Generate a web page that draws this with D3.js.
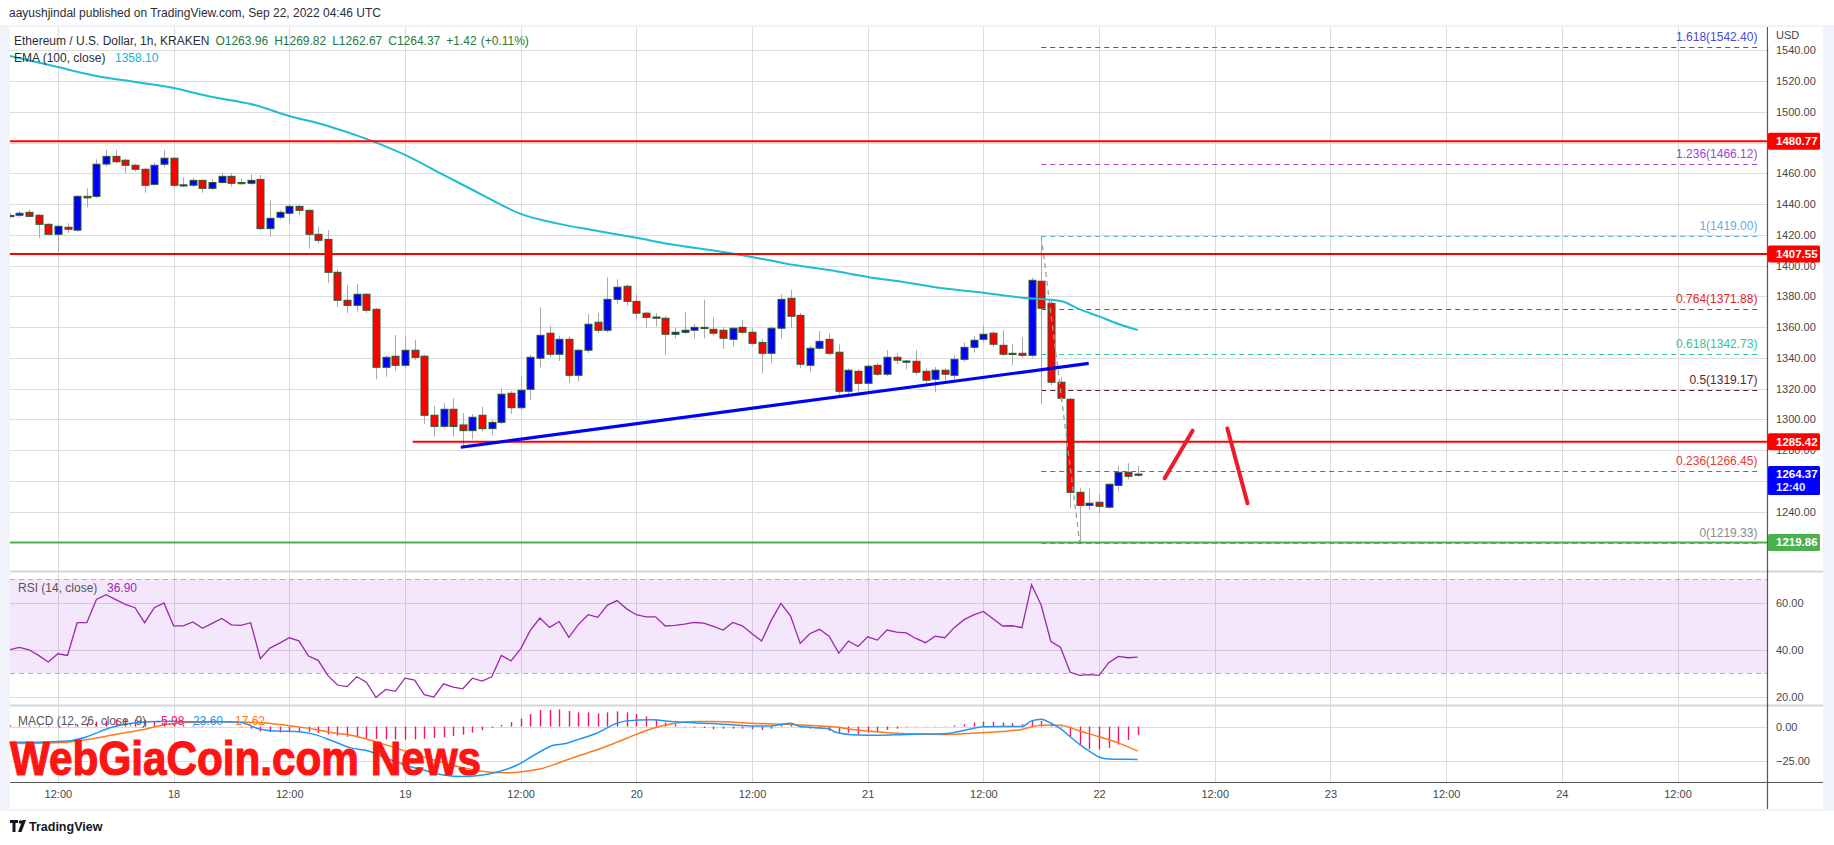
<!DOCTYPE html>
<html><head><meta charset="utf-8">
<script src="https://d3js.org/d3.v7.min.js"></script>
<style>
html,body{margin:0;padding:0;background:#fff;overflow:hidden;}
svg{display:block;}
text{font-family:"Liberation Sans", Arial, sans-serif;}
</style></head>
<body><svg id="c" width="1834" height="845"></svg>
<script>
// ---------------- DATA ----------------
const firstCandle = Date.UTC(2022, 8, 17, 7, 0);   // Sep 17 07:00 UTC, 1h candles
const refTime = Date.UTC(2022, 8, 22, 0, 0);       // offsets below are hours from Sep 22 00:00

const opens = [1432.6,1432.7,1434.6,1432.7,1426.8,1420.3,1424.9,1423.0,1445.0,1445.0,1466.0,1471.0,1468.5,1465.2,1462.6,1452.8,1465.9,1469.8,1452.2,1452.2,1455.4,1450.2,1454.0,1458.0,1454.0,1453.5,1456.0,1424.0,1431.4,1434.0,1438.5,1435.9,1420.3,1417.0,1395.6,1377.4,1374.1,1381.3,1371.5,1333.8,1341.0,1335.1,1344.9,1341.0,1302.6,1295.4,1306.5,1296.3,1292.6,1302.6,1293.9,1298.0,1316.9,1307.5,1319.5,1339.7,1356.0,1342.3,1352.0,1328.6,1344.9,1363.1,1357.9,1378.0,1386.5,1376.7,1369.0,1366.3,1365.7,1355.3,1356.6,1357.9,1359.8,1358.5,1357.9,1352.0,1359.8,1356.6,1350.0,1342.9,1359.2,1378.7,1367.6,1335.1,1346.2,1352.0,1343.6,1318.2,1331.2,1323.4,1335.1,1329.3,1340.3,1337.7,1337.7,1331.2,1326.0,1331.9,1328.6,1339.0,1346.8,1352.0,1356.0,1348.1,1342.7,1342.9,1341.6,1389.8,1375.4,1324.1,1313.0,1252.5,1244.0,1246.0,1242.8,1257.0,1265.5,1263.96];
const highs = [1434.0,1435.5,1436.5,1433.5,1427.5,1426.5,1427.5,1446.0,1450.2,1469.1,1475.2,1475.2,1469.5,1466.3,1463.5,1467.1,1475.2,1470.5,1457.4,1457.0,1456.0,1456.1,1460.0,1460.0,1456.7,1459.3,1459.0,1442.4,1436.0,1440.0,1439.4,1436.5,1425.5,1423.1,1397.6,1387.2,1388.0,1382.0,1372.5,1341.5,1354.8,1353.7,1351.6,1342.0,1308.6,1310.4,1313.7,1304.0,1303.4,1308.0,1299.5,1320.2,1318.5,1328.0,1342.0,1372.8,1360.7,1354.2,1354.0,1346.0,1368.5,1369.3,1392.4,1391.0,1387.8,1381.0,1370.0,1369.1,1367.2,1359.8,1369.6,1362.0,1377.6,1366.3,1360.0,1360.2,1364.6,1359.0,1352.0,1360.5,1381.3,1384.1,1369.3,1348.0,1357.4,1355.9,1348.8,1333.0,1332.5,1336.0,1336.5,1345.0,1343.0,1338.5,1345.0,1333.0,1334.0,1333.0,1341.6,1350.0,1354.0,1361.1,1357.4,1357.9,1348.8,1353.3,1392.0,1419.0,1378.0,1327.5,1314.0,1255.1,1255.0,1251.4,1258.5,1269.6,1271.4,1269.82];
const lows = [1431.0,1431.4,1431.4,1418.0,1420.0,1409.0,1421.0,1422.0,1437.9,1444.0,1464.3,1466.5,1460.0,1461.0,1447.4,1452.0,1463.9,1450.9,1450.9,1451.0,1447.4,1449.0,1453.0,1451.3,1452.5,1452.5,1423.0,1418.8,1430.0,1427.5,1433.0,1411.0,1414.5,1388.5,1373.0,1369.0,1370.0,1369.0,1326.0,1327.7,1331.6,1333.0,1338.6,1297.0,1288.7,1294.0,1288.7,1282.2,1287.0,1292.0,1289.8,1297.0,1303.4,1306.0,1312.5,1333.8,1340.3,1337.9,1323.8,1324.5,1343.0,1356.0,1356.5,1374.8,1374.0,1365.0,1359.6,1360.2,1341.8,1352.7,1355.3,1352.7,1352.7,1354.6,1345.7,1347.5,1355.0,1348.0,1329.9,1336.8,1352.7,1359.2,1333.2,1330.6,1344.9,1341.6,1316.0,1316.5,1318.0,1317.0,1328.0,1328.0,1336.0,1332.5,1329.0,1322.0,1317.5,1325.0,1326.0,1337.5,1343.3,1350.0,1347.0,1341.0,1335.1,1340.0,1340.0,1309.7,1322.0,1311.5,1242.0,1219.33,1241.0,1239.0,1242.0,1253.6,1261.0,1262.67];
const closes = [1432.3,1434.0,1432.0,1426.8,1420.3,1425.5,1423.6,1445.0,1444.0,1465.9,1471.0,1467.5,1465.2,1462.6,1452.2,1465.2,1469.8,1452.2,1452.5,1455.4,1450.2,1454.0,1458.0,1453.5,1453.5,1455.4,1424.0,1430.7,1434.6,1438.5,1435.9,1420.3,1416.4,1395.6,1377.4,1374.1,1381.3,1370.9,1333.8,1340.3,1335.1,1344.9,1340.3,1302.6,1295.4,1306.5,1295.3,1292.6,1301.3,1293.9,1298.0,1316.3,1307.5,1318.9,1340.3,1354.6,1342.3,1352.0,1328.6,1344.9,1361.8,1357.9,1378.0,1385.9,1376.7,1369.0,1366.3,1366.5,1355.3,1356.6,1357.9,1359.8,1359.2,1356.0,1352.7,1359.2,1356.6,1349.4,1342.9,1359.2,1378.0,1367.0,1335.8,1346.2,1350.7,1342.9,1318.2,1331.9,1323.4,1334.5,1329.3,1340.3,1338.4,1337.9,1330.6,1325.4,1331.9,1329.3,1339.0,1346.8,1351.4,1355.3,1348.8,1342.3,1342.9,1341.6,1390.4,1372.2,1324.1,1313.7,1252.5,1244.0,1245.4,1243.4,1257.7,1265.5,1262.9,1264.37];

// EMA(100) read at sampled hours [hour offset, value]
const ema100 = [[-113,1536.3],[-108,1529.1],[-104,1523.3],[-100,1519.4],[-96,1515.5],[-92,1509.6],[-88,1505.1],[-84,1497.3],[-80,1490.8],[-76,1482.4],[-72,1472.0],[-68,1459.0],[-64,1446.0],[-60,1433.6],[-56,1427.1],[-52,1422.5],[-48,1418.0],[-44,1413.4],[-40,1409.8],[-36,1405.6],[-32,1400.7],[-28,1397.1],[-24,1392.6],[-20,1389.0],[-16,1385.0],[-12,1382.3],[-8,1379.1],[-4,1376.9],[-2,1371.5],[0,1366.9],[2,1362.0],[4,1358.1]];

// RSI(14) per candle
const rsi = [40.0,41.0,40.0,37.6,34.8,38.3,37.6,51.5,51.5,61.4,63.4,61.3,59.3,57.9,51.5,57.9,59.9,50.2,50.2,51.8,49.1,51.2,53.3,50.6,50.4,51.5,36.2,40.7,42.8,45.1,43.8,37.3,35.5,29.1,25.0,24.3,28.5,26.2,19.7,23.1,22.3,27.9,27.1,20.9,19.9,25.5,24.1,23.4,27.9,26.7,28.5,37.6,35.3,40.4,48.2,53.5,49.5,52.0,45.3,50.8,54.9,53.8,59.0,60.9,57.4,54.9,54.0,54.0,50.1,50.4,50.9,51.6,51.3,49.9,48.4,51.6,50.2,46.8,43.7,52.5,59.7,54.3,42.7,46.8,48.7,45.8,38.6,43.7,41.4,45.5,44.1,48.4,47.5,47.2,44.8,43.0,45.8,45.1,49.5,52.8,54.8,56.3,53.2,50.1,50.2,49.4,67.7,58.9,43.5,41.1,30.4,29.1,29.4,29.1,34.5,37.2,36.6,36.9];

// MACD(12,26,9): line and signal read at sampled hours, histogram per candle
const macdLine = [[-113,-11.2],[-110,-11.2],[-107,-10.4],[-105,-7.3],[-102.5,-0.7],[-100.6,2.2],[-98.7,3.4],[-96.4,3.9],[-94,3.4],[-91,3.4],[-89,2.9],[-87.2,-1.5],[-85.3,-3.2],[-83.3,-3.6],[-81.4,-5.6],[-79.5,-10.4],[-77.6,-15.3],[-75.7,-17.7],[-73.7,-23.3],[-71.8,-27.9],[-69.9,-31.6],[-68,-34.7],[-66.1,-35.9],[-64.1,-35],[-62.2,-32.3],[-60.3,-27.4],[-58.4,-19.7],[-56.5,-13.3],[-55.5,-12.4],[-54,-9.2],[-52,-4.4],[-50,2.4],[-49,4.1],[-46.4,4.9],[-44,3.4],[-40,2.2],[-36,0.5],[-34,0.5],[-32,2.4],[-31,0],[-28,-1.5],[-27.4,-3.9],[-25,-6.1],[-23,-6.3],[-20,-5.6],[-16,-5.1],[-14.3,-3.2],[-12,-0.2],[-10,0],[-8,0],[-7,4.1],[-6,5.3],[-5,2.4],[-4,-1.5],[-3,-7.3],[-2,-12.9],[-1,-17.7],[0,-21.8],[1,-23.3],[2,-23.5],[3,-23.5],[4,-23.6]];
const macdSignal = [[-113,-12.1],[-107,-11.2],[-104.4,-8.7],[-102.5,-6.3],[-100.6,-3.9],[-98.7,-1.5],[-96.8,1.5],[-94.8,2.9],[-91,3.4],[-87.2,2.9],[-85,1.5],[-83.3,0],[-81.4,-1.9],[-79.5,-4.4],[-77.6,-6.3],[-75,-11],[-72,-17.5],[-69,-24],[-66,-29.5],[-63,-32.8],[-61,-33.2],[-59.5,-32],[-58,-30.5],[-56,-26],[-54,-21],[-52,-16.5],[-50,-11.2],[-48,-5.6],[-46,-0.7],[-44,2.4],[-42,3.6],[-40,3.6],[-36,2.4],[-32,1.5],[-28,0],[-24,-3.2],[-20,-5.1],[-16,-5.6],[-12.3,-4.4],[-8.3,-2.4],[-6,1],[-4,1],[-2,-3.2],[0,-7.3],[2,-11.7],[4,-17.62]];
const macdHist = [0.9,0.9,0.8,0.7,0.6,0.6,0.8,1.6,2.6,3.5,4.4,5.0,5.3,5.1,4.6,4.0,2.9,2.2,1.3,0.8,0.4,0.3,0.1,-0.1,-0.5,-1.5,-3.6,-4.0,-4.2,-4.0,-3.6,-3.7,-4.5,-5.6,-6.5,-7.3,-7.8,-8.3,-8.8,-9.2,-9.3,-9.4,-9.2,-8.8,-8.2,-7.7,-6.7,-5.8,-4.3,-2.6,-0.8,1.2,3.2,5.8,9.0,11.9,11.9,12.3,11.2,10.2,10.2,9.5,10.2,10.9,10.2,9.0,7.3,4.9,2.9,1.7,0.3,-0.7,-1.0,-1.9,-1.5,-1.5,-1.5,-1.9,-2.4,-1.5,1.0,1.5,-0.7,-1.5,-1.5,-3.2,-4.4,-4.4,-5.6,-4.4,-3.9,-2.4,-1.5,-0.4,-0.3,-0.2,0.2,0.3,1.0,1.7,2.9,3.6,3.6,2.9,2.4,1.7,4.1,4.1,1.7,-0.5,-7.3,-12.9,-16.0,-16.5,-15.3,-12.9,-9.7,-5.98];

// Axis ticks (grid) and the price labels left visible next to the badges
const priceTicks = [1220,1240,1260,1280,1300,1320,1340,1360,1380,1400,1420,1440,1460,1480,1500,1520,1540];
const priceLabels = [1240,1280,1300,1320,1340,1360,1380,1400,1420,1440,1460,1500,1520,1540];
const rsiTicks = [20,40,60];
const macdTicks = [-25,0];
const timeTickDates = ["2022-09-17T12:00Z","2022-09-18T00:00Z","2022-09-18T12:00Z","2022-09-19T00:00Z","2022-09-19T12:00Z","2022-09-20T00:00Z","2022-09-20T12:00Z","2022-09-21T00:00Z","2022-09-21T12:00Z","2022-09-22T00:00Z","2022-09-22T12:00Z","2022-09-23T00:00Z","2022-09-23T12:00Z","2022-09-24T00:00Z","2022-09-24T12:00Z"];
const timeTickLabels = ["12:00","18","12:00","19","12:00","20","12:00","21","12:00","22","12:00","23","12:00","24","12:00"];

// Drawings
const hLevels = [ {price:1480.77, fromHour:-113}, {price:1407.55, fromHour:-113}, {price:1285.42, fromHour:-71.2} ];
const supportLevel = {price:1219.86, fromHour:-113};
const trendLine = [[-66.2,1281.8],[-1.07,1336.4]];
const projUp = [[6.8,1261.6],[9.7,1292.6]];
const projDown = [[13.3,1294.1],[15.4,1245.4]];
const fibRatios = ["1.618","1.236","1","0.764","0.618","0.5","0.236","0"];
const fibPrices = [1542.40,1466.12,1419.00,1371.88,1342.73,1319.17,1266.45,1219.33];
const fibSpan = [-6, 68.5];
const fibDiagonal = [[-6,1419.0],[-2,1219.33]];
const lastPrice = 1264.37, countdown = "12:40";
const axisBadges = [1480.77, 1407.55, 1285.42, 1219.86];
const ohlcLegend = ["O1263.96","H1269.82","L1262.67","C1264.37","+1.42","(+0.11%)"];

// ---------------- STYLE / LAYOUT ----------------
const L = 10, R = 1767, TOP = 27, PANE1B = 571, PANE2B = 705, PANE3B = 782, BOX_B = 809, BOX_R = 1823;
const fibColors = ["#4a4ad8","#a044d4","#5fb0e6","#e3262b","#2ec49c","#5a2238","#e53935","#8a8a8a"];
const badgeColors = ["#ff0000","#ff0000","#ff0000","#4caf50"];

const svg = d3.select("#c");
const hour = h => new Date(refTime + h*3600e3);
const candleTime = i => new Date(firstCandle + i*3600e3);

const x = d3.scaleUtc().domain([new Date(Date.UTC(2022,8,17,7,2)), new Date(Date.UTC(2022,8,24,21,17))]).range([L, R]);
const y = d3.scaleLinear().domain([1201.3, 1555.15]).range([PANE1B, TOP]);
const yr = d3.scaleLinear().domain([16.5, 73.5]).range([PANE2B, PANE1B]);
const ym = d3.scaleLinear().domain([-39.8, 15.5]).range([PANE3B, PANE2B]);

const defs = svg.append("defs");
function clip(id, y0, y1){ defs.append("clipPath").attr("id", id).append("rect").attr("x", L).attr("y", y0).attr("width", R-L).attr("height", y1-y0); }
clip("cp1", TOP, PANE1B); clip("cp2", PANE1B, PANE2B); clip("cp3", PANE2B, PANE3B);

// background frame
svg.append("rect").attr("x",0).attr("y",TOP-2).attr("width",1834).attr("height",BOX_B-TOP+4).attr("fill","#f0f3fa");
svg.append("rect").attr("x",L).attr("y",TOP).attr("width",BOX_R-L).attr("height",BOX_B-TOP).attr("fill","#ffffff");

const gridColor = "#dcdcdc";
const timeTicks = timeTickDates.map(d => new Date(d));

// vertical grid in all panes
const vg = svg.append("g");
[[TOP,PANE1B],[PANE1B,PANE2B],[PANE2B,PANE3B]].forEach(([a,b]) => {
  vg.selectAll(null).data(timeTicks).enter().append("line")
    .attr("x1", d=>Math.round(x(d))+0.5).attr("x2", d=>Math.round(x(d))+0.5).attr("y1", a).attr("y2", b)
    .attr("stroke", gridColor).attr("stroke-width",1);
});
// horizontal grid
svg.append("g").selectAll("line").data(priceTicks).enter().append("line")
  .attr("x1",L).attr("x2",R).attr("y1",d=>Math.round(y(d))+0.5).attr("y2",d=>Math.round(y(d))+0.5)
  .attr("stroke",gridColor);
svg.append("g").selectAll("line").data(rsiTicks).enter().append("line")
  .attr("x1",L).attr("x2",R).attr("y1",d=>Math.round(yr(d))+0.5).attr("y2",d=>Math.round(yr(d))+0.5)
  .attr("stroke",gridColor);
svg.append("g").selectAll("line").data(macdTicks).enter().append("line")
  .attr("x1",L).attr("x2",R).attr("y1",d=>Math.round(ym(d))+0.5).attr("y2",d=>Math.round(ym(d))+0.5)
  .attr("stroke",gridColor);

// ---------- price pane ----------
const p1 = svg.append("g").attr("clip-path","url(#cp1)");
const fibG = p1.append("g");
fibPrices.forEach((p,i) => {
  fibG.append("line").attr("x1", x(hour(fibSpan[0]))).attr("x2", x(hour(fibSpan[1])))
    .attr("y1", Math.round(y(p))+0.5).attr("y2", Math.round(y(p))+0.5)
    .attr("stroke", fibColors[i]).attr("stroke-width",1).attr("stroke-dasharray","5,4");
});
const candles = d3.range(opens.length).map(i => ({t:candleTime(i), o:opens[i], h:highs[i], l:lows[i], c:closes[i]}));
const cg = p1.append("g");
cg.selectAll("line.w").data(candles).enter().append("line")
  .attr("x1", d=>Math.round(x(d.t))+0.5).attr("x2", d=>Math.round(x(d.t))+0.5)
  .attr("y1", d=>y(d.h)).attr("y2", d=>y(d.l)).attr("stroke","#a9a9a9").attr("stroke-width",1);
cg.selectAll("rect").data(candles).enter().append("rect")
  .attr("x", d=>Math.round(x(d.t))-3).attr("width",7)
  .attr("y", d=>y(Math.max(d.o,d.c))).attr("height", d=>Math.max(1.2, Math.abs(y(d.o)-y(d.c))))
  .attr("fill", d=> d.c>=d.o ? "#0000ff" : "#ff0000")
  .attr("stroke", "#2a5a2f").attr("stroke-width",1);
p1.append("path").datum(ema100).attr("fill","none").attr("stroke","#1fbcd2").attr("stroke-width",2)
  .attr("d", d3.line().x(d=>x(hour(d[0]))).y(d=>y(d[1])).curve(d3.curveMonotoneX));
p1.append("line").attr("x1",x(hour(fibDiagonal[0][0]))).attr("y1",y(fibDiagonal[0][1]))
  .attr("x2",x(hour(fibDiagonal[1][0]))).attr("y2",y(fibDiagonal[1][1]))
  .attr("stroke","#9e9e9e").attr("stroke-width",1.3).attr("stroke-dasharray","5,4");
hLevels.forEach(h => {
  p1.append("line").attr("x1",x(hour(h.fromHour))).attr("x2",R).attr("y1",y(h.price)).attr("y2",y(h.price))
    .attr("stroke","#ff0000").attr("stroke-width",2);
});
p1.append("line").attr("x1",x(hour(supportLevel.fromHour))).attr("x2",R).attr("y1",y(supportLevel.price)).attr("y2",y(supportLevel.price))
  .attr("stroke","#4caf50").attr("stroke-width",2);
p1.append("line").attr("x1",x(hour(trendLine[0][0]))).attr("y1",y(trendLine[0][1]))
  .attr("x2",x(hour(trendLine[1][0]))).attr("y2",y(trendLine[1][1]))
  .attr("stroke","#0000ff").attr("stroke-width",3.2);
[projUp, projDown].forEach(s => {
  p1.append("line").attr("x1",x(hour(s[0][0]))).attr("y1",y(s[0][1]))
    .attr("x2",x(hour(s[1][0]))).attr("y2",y(s[1][1]))
    .attr("stroke","#ec1c2a").attr("stroke-width",4).attr("stroke-linecap","round");
});
fibPrices.forEach((p,i) => {
  p1.append("text").attr("x", x(hour(fibSpan[1]))-2).attr("y", y(p)-6)
    .attr("text-anchor","end").attr("font-size",12).attr("fill",fibColors[i])
    .text(fibRatios[i] + "(" + p.toFixed(2) + ")");
});

// ---------- RSI pane ----------
const p2 = svg.append("g").attr("clip-path","url(#cp2)");
p2.append("rect").attr("x",L).attr("width",R-L).attr("y",yr(70)).attr("height",yr(30)-yr(70)).attr("fill","rgba(150,20,230,0.1)");
[70,30].forEach(v => p2.append("line").attr("x1",L).attr("x2",R).attr("y1",Math.round(yr(v))+0.5).attr("y2",Math.round(yr(v))+0.5)
  .attr("stroke","#b9acc6").attr("stroke-dasharray","5,4"));
p2.append("path").datum(rsi).attr("fill","none").attr("stroke","#9c27b0").attr("stroke-width",1.3)
  .attr("d", d3.line().x((d,i)=>x(candleTime(i))).y(d=>yr(d)));

// ---------- MACD pane ----------
const p3 = svg.append("g").attr("clip-path","url(#cp3)");
p3.selectAll("line.h").data(macdHist).enter().append("line")
  .attr("x1",(d,i)=>Math.round(x(candleTime(i)))+0.5).attr("x2",(d,i)=>Math.round(x(candleTime(i)))+0.5)
  .attr("y1", ym(0)).attr("y2", d=>ym(d)).attr("stroke","#f5146a").attr("stroke-width",1.4);
p3.append("path").datum(macdSignal).attr("fill","none").attr("stroke","#ff7a1a").attr("stroke-width",1.5)
  .attr("d", d3.line().x(d=>x(hour(d[0]))).y(d=>ym(d[1])).curve(d3.curveMonotoneX));
p3.append("path").datum(macdLine).attr("fill","none").attr("stroke","#2196f3").attr("stroke-width",1.5)
  .attr("d", d3.line().x(d=>x(hour(d[0]))).y(d=>ym(d[1])).curve(d3.curveMonotoneX));

[PANE1B, PANE2B].forEach(v => svg.append("line").attr("x1",L).attr("x2",BOX_R).attr("y1",v+0.5).attr("y2",v+0.5).attr("stroke","#d4d6dc").attr("stroke-width",2));
svg.append("line").attr("x1",L).attr("x2",BOX_R).attr("y1",PANE3B+0.5).attr("y2",PANE3B+0.5).attr("stroke","#555").attr("stroke-width",1.2);
svg.append("line").attr("x1",R+0.5).attr("x2",R+0.5).attr("y1",TOP).attr("y2",BOX_B).attr("stroke","#555").attr("stroke-width",1.2);

// ---------- axes ----------
function styleAxis(g){ g.select(".domain").remove(); g.selectAll("line").remove();
  g.selectAll("text").attr("fill","#474747").attr("font-size",11).attr("font-family","Liberation Sans, Arial, sans-serif"); }
svg.append("g").attr("transform",`translate(${R},0)`)
  .call(d3.axisRight(y).tickValues(priceLabels).tickFormat(d3.format(".2f")).tickSize(0).tickPadding(9)).call(styleAxis);
svg.append("g").attr("transform",`translate(${R},0)`)
  .call(d3.axisRight(yr).tickValues(rsiTicks).tickFormat(d3.format(".2f")).tickSize(0).tickPadding(9)).call(styleAxis);
svg.append("g").attr("transform",`translate(${R},0)`)
  .call(d3.axisRight(ym).tickValues(macdTicks).tickFormat(d3.format(".2f")).tickSize(0).tickPadding(9)).call(styleAxis);
svg.append("g").attr("transform",`translate(0,${PANE3B})`)
  .call(d3.axisBottom(x).tickValues(timeTicks).tickFormat((d,i)=>timeTickLabels[i]).tickSize(0).tickPadding(8)).call(styleAxis);

svg.append("rect").attr("x",R+1).attr("y",TOP).attr("width",BOX_R-R-2).attr("height",19).attr("fill","#fff");
svg.append("text").attr("x",R+9).attr("y",TOP+12).attr("font-size",11).attr("fill","#474747").text("USD");

axisBadges.forEach((p,i) => {
  const cy = y(p);
  svg.append("rect").attr("x",R+1).attr("y",cy-8.5).attr("width",52).attr("height",17).attr("rx",1.5).attr("fill",badgeColors[i]);
  svg.append("text").attr("x",R+9).attr("y",cy+4).attr("font-size",11.5).attr("font-weight","bold").attr("fill","#fff").text(p.toFixed(2));
});
{
  const cy = y(lastPrice);
  svg.append("rect").attr("x",R+1).attr("y",cy-8).attr("width",52).attr("height",29).attr("rx",1.5).attr("fill","#0000ff");
  svg.append("text").attr("x",R+9).attr("y",cy+4).attr("font-size",11.5).attr("font-weight","bold").attr("fill","#fff").text(lastPrice.toFixed(2));
  svg.append("text").attr("x",R+9).attr("y",cy+17).attr("font-size",11.5).attr("font-weight","bold").attr("fill","#e6e6ff").text(countdown);
}

// ---------- legends / header ----------
svg.append("text").attr("x",9).attr("y",17).attr("font-size",12).attr("fill","#2a2e39")
  .text("aayushjindal published on TradingView.com, Sep 22, 2022 04:46 UTC");
const leg = svg.append("g").attr("font-size",12);
const title = leg.append("text").attr("x",14).attr("y",45).attr("fill","#2a2e39").text("Ethereum / U.S. Dollar, 1h, KRAKEN");
let cx = 14 + title.node().getComputedTextLength() + 6;
ohlcLegend.forEach((t,i) => {
  const el = leg.append("text").attr("x",cx).attr("y",45).attr("fill","#1e7b3a").text(t);
  cx += el.node().getComputedTextLength() + (i===4 ? 4 : 6);
});
leg.append("text").attr("x",14).attr("y",62).attr("fill","#2a2e39").text("EMA (100, close)");
leg.append("text").attr("x",115).attr("y",62).attr("fill","#00bcd4").text("1358.10");

svg.append("text").attr("x",18).attr("y",592).attr("font-size",12).attr("fill","#555").text("RSI (14, close)");
svg.append("text").attr("x",107).attr("y",592).attr("font-size",12).attr("fill","#9c27b0").text("36.90");

// watermark
svg.append("text").attr("x",10).attr("y",775).attr("font-size",48).attr("font-weight","bold")
  .attr("font-family","'Liberation Sans Narrow','DejaVu Sans Condensed','Roboto Condensed',sans-serif")
  .attr("textLength",471).attr("lengthAdjust","spacingAndGlyphs").attr("fill","#ff1414")
  .attr("stroke","#ff1414").attr("stroke-width",1.2).text("WebGiaCoin.com News");

const mg = svg.append("g").attr("font-size",12);
mg.append("text").attr("x",18).attr("y",725).attr("fill","#555").text("MACD (12, 26, close, 9)");
mg.append("text").attr("x",157).attr("y",725).attr("fill","#f5146a").text("-5.98");
mg.append("text").attr("x",189).attr("y",725).attr("fill","#2196f3").text("-23.60");
mg.append("text").attr("x",231).attr("y",725).attr("fill","#ff7a1a").text("-17.62");

// TradingView footer
const lg = svg.append("g").attr("fill","#131722");
lg.append("path").attr("d","M10 820 h8 v3 h-2.5 v9 h-3 v-9 h-2.5 z");
lg.append("circle").attr("cx",20.5).attr("cy",822).attr("r",1.8);
lg.append("path").attr("d","M22.5 820 h3.5 l-4.5 12 h-3.5 z");
svg.append("text").attr("x",29).attr("y",831).attr("font-size",12.5).attr("font-weight","bold").attr("fill","#131722").text("TradingView");
</script></body></html>
